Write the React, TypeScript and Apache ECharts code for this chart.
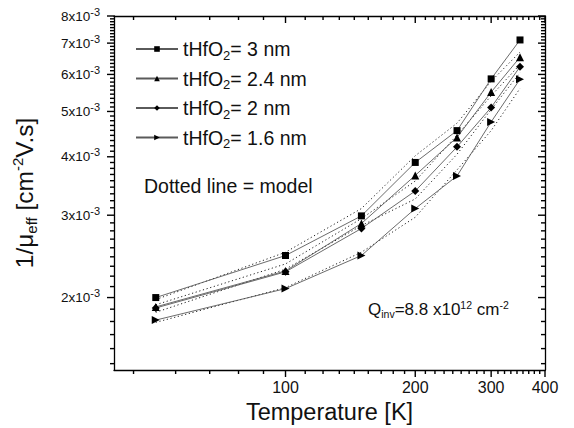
import React, { useEffect, useRef } from 'react';
import * as echarts from 'echarts';

// Temperatures (K)
const temperatures = [50, 100, 150, 200, 250, 300, 350];

// Measured 1/mu_eff (cm^-2 V.s)
const meas30 = [2.0e-3, 2.46e-3, 2.99e-3, 3.89e-3, 4.55e-3, 5.87e-3, 7.11e-3];
const meas24 = [1.91e-3, 2.28e-3, 2.88e-3, 3.65e-3, 4.4e-3, 5.5e-3, 6.53e-3];
const meas20 = [1.9e-3, 2.27e-3, 2.81e-3, 3.38e-3, 4.2e-3, 5.1e-3, 6.23e-3];
const meas16 = [1.79e-3, 2.09e-3, 2.46e-3, 3.1e-3, 3.64e-3, 4.75e-3, 5.86e-3];

// Model (dotted lines)
const model30 = [1.98e-3, 2.5e-3, 3.1e-3, 4.02e-3, 4.72e-3, 5.8e-3, 6.7e-3];
const model24 = [1.93e-3, 2.36e-3, 2.95e-3, 3.55e-3, 4.45e-3, 5.4e-3, 6.3e-3];
const model20 = [1.86e-3, 2.3e-3, 2.85e-3, 3.25e-3, 4.05e-3, 5.05e-3, 6.05e-3];
const model16 = [1.77e-3, 2.1e-3, 2.5e-3, 2.97e-3, 3.75e-3, 4.55e-3, 5.6e-3];

const seriesNames = ['tHfO2= 3 nm', 'tHfO2= 2.4 nm', 'tHfO2= 2 nm', 'tHfO2= 1.6 nm'];

// Axis ticks
const xMajorTicks = [100, 200, 300, 400];
const xMinorTicks = [
  44.4, 55.6, 66.7, 77.8, 88.9,
  111.1, 122.2, 133.3, 144.4, 155.6, 166.7, 177.8, 188.9,
  211.1, 222.2, 233.3, 244.4, 255.6, 266.7, 277.8, 288.9,
  311.1, 322.2, 333.3, 344.4, 355.6, 366.7, 377.8, 388.9,
];
const yMajorTicks = [2e-3, 3e-3, 4e-3, 5e-3, 6e-3, 7e-3, 8e-3];
const yMinorSteps = [1, 2, 3, 4, 5, 6, 7, 8];

const X_MIN = 40;
const X_MAX = 400;
const Y_MIN = 1.4e-3;
const Y_MAX = 8e-3;

const FONT = 'Liberation Sans, Arial, sans-serif';

export default function App() {
  const ref = useRef<HTMLDivElement>(null);

  useEffect(() => {
    if (!ref.current) return;
    const chart = echarts.init(ref.current, undefined, { renderer: 'svg' });

    const yMinorTicks: number[] = [];
    [1e-3, ...yMajorTicks.slice(0, -1)].forEach((base) => {
      yMinorSteps.forEach((j) => {
        const v = base + (j * 1e-3) / 9;
        if (v >= Y_MIN && v < Y_MAX) yMinorTicks.push(v);
      });
    });

    const axisLineStyle = { color: '#000', width: 1.3 };
    const MAJOR = 7;
    const MINOR = 4;
    const TW = 1.4;

    const xLog = { type: 'log' as const, logBase: 10, min: X_MIN, max: X_MAX, gridIndex: 0, splitLine: { show: false } };
    const yLog = { type: 'log' as const, logBase: 10, min: Y_MIN, max: Y_MAX, gridIndex: 0, splitLine: { show: false } };

    const markers = ['rect', 'triangle', 'diamond', 'triangle'];
    const rotates = [0, 0, 0, -90];
    const sizes = [7, 8, 8, 8];
    const measList = [meas30, meas24, meas20, meas16];
    const modelList = [model30, model24, model20, model16];

    const tickSeries = (name: string, data: number[][], size: number[], offset: number[]) => ({
      name,
      type: 'scatter',
      data,
      symbol: 'rect',
      symbolSize: size,
      symbolOffset: offset,
      clip: false,
      itemStyle: { color: '#000', opacity: 1 },
      z: 10,
    });

    const series: any[] = [];

    measList.forEach((arr, k) => {
      series.push({
        name: seriesNames[k],
        type: 'line',
        data: temperatures.map((t, i) => [t, arr[i]]),
        symbol: markers[k],
        symbolRotate: rotates[k],
        symbolSize: sizes[k],
        showAllSymbol: true,
        lineStyle: { color: '#5a5a5a', width: 0.9 },
        itemStyle: { color: '#000' },
        z: 3,
      });
    });
    modelList.forEach((arr, k) => {
      series.push({
        name: 'model ' + seriesNames[k],
        type: 'line',
        data: temperatures.map((t, i) => [t, arr[i]]),
        symbol: 'none',
        lineStyle: { color: '#222', width: 1, type: [1.2, 2.6] },
        z: 2,
      });
    });

    // x ticks: bottom outward (down), top inward (down)
    series.push(
      tickSeries(
        'x major ticks',
        [...xMajorTicks.map((v) => [v, Y_MIN]), ...xMajorTicks.map((v) => [v, Y_MAX])],
        [TW, MAJOR],
        [0, MAJOR / 2],
      ),
    );
    series.push(
      tickSeries(
        'x minor ticks',
        [...xMinorTicks.map((v) => [v, Y_MIN]), ...xMinorTicks.map((v) => [v, Y_MAX])],
        [TW, MINOR],
        [0, MINOR / 2],
      ),
    );
    // y ticks: left outward (left), right inward (left)
    series.push(
      tickSeries(
        'y major ticks',
        [...yMajorTicks.map((v) => [X_MIN, v]), ...yMajorTicks.map((v) => [X_MAX, v])],
        [MAJOR, TW],
        [-MAJOR / 2, 0],
      ),
    );
    series.push(
      tickSeries(
        'y minor ticks',
        [...yMinorTicks.map((v) => [X_MIN, v]), ...yMinorTicks.map((v) => [X_MAX, v])],
        [MINOR, TW],
        [-MINOR / 2, 0],
      ),
    );

    chart.setOption({
      animation: false,
      textStyle: { fontFamily: FONT },
      grid: { left: 114, top: 16, right: 29, bottom: 58, outerBoundsMode: 'none' },
      legend: {
        data: seriesNames,
        orient: 'vertical',
        left: 135,
        top: 39,
        padding: 0,
        itemWidth: 42,
        itemHeight: 7,
        itemGap: 7,
        textStyle: {
          fontFamily: FONT,
          fontSize: 19.5,
          color: '#111',
          rich: {
            m: { fontSize: 19.5, fontFamily: FONT, color: '#111' },
            sub: { fontSize: 13, fontFamily: FONT, color: '#111', padding: [12, 0, 0, 0] },
          },
        },
        formatter: (name: string) => '{m|' + name.replace('O2', 'O}{sub|2}{m|') + '}',
      },
      xAxis: [
        {
          ...xLog,
          position: 'bottom',
          axisLine: { show: true, lineStyle: axisLineStyle },
          axisTick: { show: false },
          axisLabel: {
            show: true,
            customValues: xMajorTicks,
            fontSize: 16,
            color: '#111',
            margin: 9,
            fontFamily: FONT,
            formatter: (v: number) => String(Math.round(v)),
          },
          name: 'Temperature [K]',
          nameLocation: 'middle',
          nameGap: 27,
          nameTextStyle: { fontSize: 23.5, color: '#111', fontFamily: FONT },
        },
        {
          ...xLog,
          position: 'top',
          axisLine: { show: true, lineStyle: axisLineStyle },
          axisTick: { show: false },
          axisLabel: { show: false },
        },
      ],
      yAxis: [
        {
          ...yLog,
          position: 'left',
          axisLine: { show: true, lineStyle: axisLineStyle },
          axisTick: { show: false },
          axisLabel: {
            show: true,
            customValues: yMajorTicks,
            margin: 14,
            formatter: (v: number) => '{n|' + Math.round(v * 1000) + 'x10}{s|-3}',
            rich: {
              n: { fontSize: 13.5, color: '#111', fontFamily: FONT },
              s: { fontSize: 11, color: '#111', fontFamily: FONT, padding: [0, 0, 9, 0] },
            },
          },
          name: '1/{g|μ}{sub|eff} [cm{sup|-2}V.s]',
          nameLocation: 'middle',
          nameRotate: 90,
          nameGap: 75,
          nameTextStyle: {
            fontSize: 24.5,
            color: '#111',
            fontFamily: FONT,
            rich: {
              g: { fontSize: 24.5, color: '#111', fontFamily: FONT },
              sub: { fontSize: 15, color: '#111', fontFamily: FONT, padding: [14, 0, 0, 0] },
              sup: { fontSize: 15, color: '#111', fontFamily: FONT, padding: [0, 0, 14, 0] },
            },
          },
        },
        {
          ...yLog,
          position: 'right',
          axisLine: { show: true, lineStyle: axisLineStyle },
          axisTick: { show: false },
          axisLabel: { show: false },
        },
      ],
      graphic: [
        {
          type: 'text',
          left: 144,
          top: 176,
          style: { text: 'Dotted line = model', fontSize: 19.5, fill: '#111', fontFamily: FONT },
        },
        {
          type: 'text',
          left: 368,
          top: 299,
          style: {
            text: 'Q{sub|inv}=8.8 x10{sup|12} cm{sup|-2}',
            fontSize: 17,
            fill: '#111',
            fontFamily: FONT,
            rich: {
              sub: { fontSize: 10.5, fill: '#111', fontFamily: FONT, padding: [9, 0, 0, 0] },
              sup: { fontSize: 10.5, fill: '#111', fontFamily: FONT, padding: [0, 0, 9, 0] },
            },
          },
        },
      ],
      series,
    });

    return () => chart.dispose();
  }, []);

  return (
    <div
      ref={ref}
      style={{ position: 'fixed', left: 0, top: 0, width: 574, height: 428, background: '#fff' }}
    />
  );
}
